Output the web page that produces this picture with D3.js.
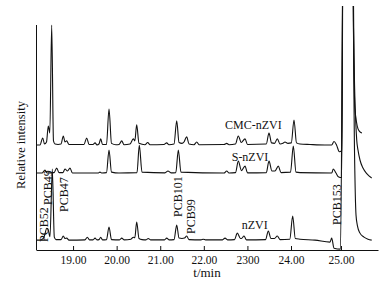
<!DOCTYPE html>
<html>
<head>
<meta charset="utf-8">
<script src="https://cdn.jsdelivr.net/npm/d3@7"></script>
<style>
  body { margin: 0; background: #fff; }
  svg { display: block; background: #fff; font-family: "Liberation Serif", "Times New Roman", serif; }
</style>
</head>
<body>
<svg id="chart"></svg>
<script>
// x axis ticks (the "2300" label is as printed in the original figure)
const tickValues = [19, 20, 21, 22, 23, 24, 25];
const tickLabels = ["19.00", "20.00", "21.00", "22.00", "2300", "24.00", "25.00"];

// traces: [t/min, relative intensity above own baseline]
const seriesNames = ["CMC-nZVI", "S-nZVI", "nZVI"];
const seriesOffsets = [46.7, 34.2, 4.4];

const cmcNzvi = [
  [18.166,0],[18.242,0],[18.304,3.1],[18.345,0.4],[18.391,1.3],[18.432,8.4],[18.467,5.3],[18.510,53.3],
  [18.551,1.8],[18.586,0.4],[18.655,0.2],[18.724,0.4],[18.776,4.0],[18.815,1.3],[18.854,1.8],[18.907,0.2],
  [19.251,0.2],[19.313,3.1],[19.366,0.2],[19.458,0.2],[19.504,0.9],[19.549,0],[19.595,0.4],[19.634,2.7],
  [19.676,0.2],[19.767,0.2],[19.825,16.0],[19.882,0.7],[19.985,0.1],[20.054,0.2],[20.116,1.8],[20.169,0.1],
  [20.306,0.4],[20.382,2.7],[20.417,1.8],[20.460,8.9],[20.513,0.7],[20.650,0.1],[20.713,1.1],[20.765,0.1],
  [21.086,0.2],[21.148,0.9],[21.201,0.1],[21.316,0.4],[21.378,10.7],[21.431,1.1],[21.499,0.7],[21.545,1.3],
  [21.607,3.6],[21.660,0.4],[21.775,0.1],[21.837,1.3],[21.889,0.1],[22.463,0.2],[22.525,0.7],[22.578,0.1],
  [22.727,0.4],[22.791,4.0],[22.858,1.1],[22.945,2.7],[23.002,0.2],[23.433,0.4],[23.495,5.3],[23.553,0.9],
  [23.621,0.7],[23.686,2.7],[23.748,0.4],[23.816,0.7],[23.862,1.3],[23.931,0.7],[24.006,0.9],[24.060,11.1],
  [24.110,0.9],[24.180,0.4],[24.380,0.2],[24.680,0],[24.814,0],[24.860,1.5],[24.910,0],[24.966,-3.0],
  [25.016,-2.5],[25.055,140],[25.250,140],[25.285,55],[25.318,16.5],[25.356,10.2],[25.391,7.1],[25.436,5.8],
  [25.482,5.3]
];

const sNzvi = [
  [18.166,0],[18.288,0],[18.356,1.3],[18.402,0],[18.563,0.2],[18.625,2.2],[18.678,0.2],[18.769,0.2],
  [18.815,1.8],[18.873,0.9],[18.930,2.2],[18.987,0],[19.572,0],[19.618,0.4],[19.664,0],[19.767,0.2],
  [19.825,10.2],[19.882,0.4],[20.054,0],[20.467,0.2],[20.520,12.4],[20.582,0.4],[21.109,0.1],[21.178,0.9],
  [21.247,0.1],[21.357,0.2],[21.415,10.2],[21.476,0.4],[22.463,0],[22.525,0.9],[22.578,0],[22.727,0.2],
  [22.791,5.3],[22.864,1.1],[22.945,3.1],[23.002,0.1],[23.433,0.2],[23.495,5.3],[23.564,0.9],[23.633,0.9],
  [23.709,3.1],[23.771,0.2],[23.989,0.4],[24.046,12.0],[24.100,0.4],[24.180,0.2],[24.814,0],[24.846,1.8],
  [24.900,0],[24.946,-1.6],[25.016,-2.0],[25.055,140],[25.255,140],[25.300,50],[25.361,14.7],[25.391,10.2],
  [25.436,5.8],[25.505,2.2],[25.597,-0.4],[25.705,-2.2]
];

const nzvi = [
  [18.166,0],[18.242,0],[18.288,0.4],[18.322,0.9],[18.356,2.7],[18.395,5.3],[18.425,4.9],[18.471,1.5],
  [18.524,31.6],[18.570,1.3],[18.609,0.2],[18.724,0.2],[18.776,1.8],[18.815,0.7],[18.854,0.9],[18.907,0],
  [19.274,0.1],[19.327,1.3],[19.377,0.1],[19.458,0.1],[19.504,0.9],[19.549,0.1],[19.595,0.2],[19.634,1.3],
  [19.676,0.1],[19.767,0.2],[19.825,5.8],[19.882,0.2],[20.066,0.1],[20.116,0.9],[20.169,0.1],[20.329,0.4],
  [20.382,1.3],[20.417,1.1],[20.460,8.0],[20.513,0.7],[20.582,0.2],[20.674,0.1],[20.726,0.7],[20.777,0.1],
  [21.098,0.1],[21.148,0.9],[21.201,0.1],[21.316,0.2],[21.378,6.7],[21.431,0.9],[21.499,0.7],[21.557,0.9],
  [21.607,1.8],[21.660,0.2],[21.935,0.1],[21.988,0.4],[22.039,0.1],[22.429,0.1],[22.486,0.9],[22.543,0.1],
  [22.704,0.2],[22.768,3.1],[22.841,0.7],[22.864,0.7],[22.922,1.8],[22.979,0.1],[23.415,0.2],[23.479,4.0],
  [23.541,0.7],[23.621,0.7],[23.686,1.8],[23.748,0.2],[23.972,0.4],[24.034,10.7],[24.086,0.7],[24.180,0.4],
  [24.480,0],[24.780,-0.9],[24.814,0.9],[24.860,-3.6],[24.990,-4.0],[25.055,140],[25.260,140],[25.310,40],
  [25.345,11.1],[25.379,6.2],[25.436,3.1],[25.528,1.3],[25.620,0.4],[25.705,0]
];

// series label anchors [t, intensity]
const seriesLabelPos = [[22.486, 54.0], [22.640, 39.7], [22.869, 9.2]];

// peak annotations (rotated), anchor [t, intensity]
const peakNames = ["PCB52", "PCB49", "PCB47", "PCB101", "PCB99", "PCB153"];
const peakLabelPos = [[18.414, 3.6], [18.506, 20.0], [18.873, 16.9], [21.488, 14.7], [21.798, 7.1], [24.99, 11.1]];

const width = 391;
const height = 289;
const margin = { top: 25, right: 13, bottom: 39, left: 36 };

const svg = d3.select("#chart")
  .attr("width", width)
  .attr("height", height);

// the printed axis is slightly stretched between 24 and 25 min
const x = d3.scaleLinear()
  .domain([18.15, 24, 25, 25.85])
  .range([margin.left, 291, 341, width - margin.right]);

const y = d3.scaleLinear()
  .domain([0, 100])
  .range([height - margin.bottom, margin.top]);

svg.append("defs").append("clipPath")
  .attr("id", "plot-clip")
  .append("rect")
  .attr("x", margin.left)
  .attr("y", 6)
  .attr("width", width - margin.left)
  .attr("height", height - 6);

const traces = [cmcNzvi, sNzvi, nzvi];

traces.forEach((data, i) => {
  const line = d3.line()
    .x(d => x(d[0]))
    .y(d => y(d[1] + seriesOffsets[i]))
    .curve(d3.curveMonotoneX);

  svg.append("path")
    .datum(data)
    .attr("clip-path", "url(#plot-clip)")
    .attr("fill", "none")
    .attr("stroke", "#111")
    .attr("stroke-width", 1.1)
    .attr("stroke-linejoin", "round")
    .attr("d", line);
});

// axes
const xAxis = svg.append("g")
  .attr("transform", `translate(0,${height - margin.bottom})`)
  .call(d3.axisBottom(x)
    .tickValues(tickValues)
    .tickFormat((d, i) => tickLabels[i])
    .tickSizeInner(-4)
    .tickSizeOuter(0)
    .tickPadding(6));

xAxis.attr("font-family", null).attr("font-size", 11.5);
xAxis.selectAll("line, path").attr("stroke", "#111");
xAxis.selectAll("text").attr("fill", "#111");

svg.append("line")
  .attr("x1", margin.left + 0.5)
  .attr("x2", margin.left + 0.5)
  .attr("y1", margin.top)
  .attr("y2", height - margin.bottom)
  .attr("stroke", "#111");

// titles
svg.append("text")
  .attr("x", 207)
  .attr("y", 277)
  .attr("text-anchor", "middle")
  .attr("font-size", 13)
  .attr("fill", "#111")
  .text("t/min");

svg.append("text")
  .attr("transform", "translate(25,145) rotate(-90)")
  .attr("text-anchor", "middle")
  .attr("font-size", 12.5)
  .attr("fill", "#111")
  .text("Relative intensity");

// series names
svg.selectAll(".series-label")
  .data(seriesNames)
  .enter()
  .append("text")
  .attr("class", "series-label")
  .attr("x", (d, i) => x(seriesLabelPos[i][0]))
  .attr("y", (d, i) => y(seriesLabelPos[i][1]))
  .attr("font-size", 12)
  .attr("fill", "#111")
  .text(d => d);

// peak names
svg.selectAll(".peak-label")
  .data(peakNames)
  .enter()
  .append("text")
  .attr("class", "peak-label")
  .attr("transform", (d, i) => `translate(${x(peakLabelPos[i][0])},${y(peakLabelPos[i][1])}) rotate(-90)`)
  .attr("font-size", 12)
  .attr("fill", "#111")
  .text(d => d);
</script>
</body>
</html>
